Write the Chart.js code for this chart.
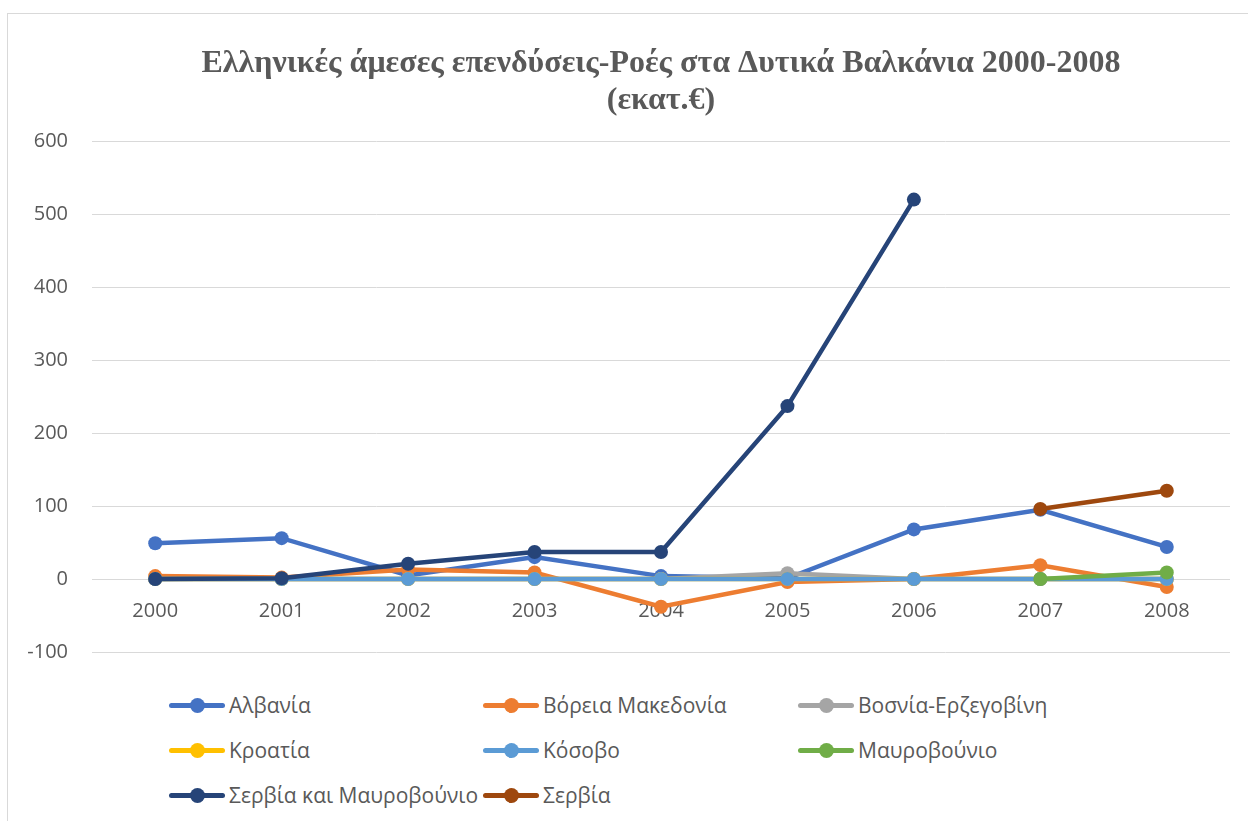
<!DOCTYPE html>
<html>
<head>
<meta charset="utf-8">
<script src="https://cdn.jsdelivr.net/npm/chart.js@4"></script>
<style>
  body { margin: 0; background: #fff; width: 1248px; height: 821px; overflow: hidden; position: relative; }
  #frame { position: absolute; left: 7px; top: 13px; width: 1300px; height: 900px; border: 1px solid #d9d9d9; }
  #wrap { position: absolute; left: 8px; top: 14px; width: 1240px; height: 674px; }
  #legend { position: absolute; left: 0; top: 0; font-family: "Open Sans", sans-serif; font-size: 21px; color: #595959; }
  .item { position: absolute; display: flex; align-items: center; white-space: nowrap; }
  .mark { position: relative; width: 56px; height: 15px; margin-right: 4px; }
  .mark .ln { position: absolute; left: 0; top: 5px; width: 56px; height: 5px; border-radius: 3px; }
  .mark .dot { position: absolute; left: 20.5px; top: 0; width: 15px; height: 15px; border-radius: 50%; }
</style>
</head>
<body>
<div id="frame"></div>
<div id="wrap"><canvas id="chart"></canvas></div>
<div id="legend"></div>
<script>
const years = ["2000", "2001", "2002", "2003", "2004", "2005", "2006", "2007", "2008"];

// values in million euro
const albania = [49, 56, 5, 30, 4, 1, 68, 95, 44];
const northMacedonia = [4, 2, 13, 9, -38, -4, 0, 19, -11];
const bosnia = [0, 0, 0, 0, 0, 8, 0, 0, 0];
const croatia = [0, 0, 0, 0, 0, 0, 0, 0, 0];
const kosovo = [0, 0, 0, 0, 0, 0, 0, 0, 0];
const montenegro = [null, null, null, null, null, null, null, 0, 9];
const serbiaMontenegro = [0, 1, 21, 37, 37, 237, 520, null, null];
const serbia = [null, null, null, null, null, null, null, 96, 121];

const seriesNames = ["Αλβανία", "Βόρεια Μακεδονία", "Βοσνία-Ερζεγοβίνη", "Κροατία",
  "Κόσοβο", "Μαυροβούνιο", "Σερβία και Μαυροβούνιο", "Σερβία"];
const seriesData = [albania, northMacedonia, bosnia, croatia, kosovo, montenegro, serbiaMontenegro, serbia];
const seriesColors = ["#4472C4", "#ED7D31", "#A5A5A5", "#FFC000", "#5B9BD5", "#70AD47", "#264478", "#9E480E"];

const textColor = "#595959";
const gridColor = "#d9d9d9";

const datasets = seriesNames.map((name, i) => ({
  label: name,
  data: seriesData[i],
  borderColor: seriesColors[i],
  backgroundColor: seriesColors[i],
  pointBackgroundColor: seriesColors[i],
  pointBorderColor: seriesColors[i],
  borderWidth: 4.5,
  pointRadius: 7,
  pointBorderWidth: 0,
  tension: 0,
  // excel paints the first series at the bottom
  order: seriesNames.length - i
}));

new Chart(document.getElementById("chart"), {
  type: "line",
  data: { labels: years, datasets },
  options: {
    responsive: true,
    maintainAspectRatio: false,
    animation: false,
    layout: { padding: { left: 0, right: 18, top: 0, bottom: 12 } },
    plugins: {
      legend: { display: false },
      tooltip: { enabled: false },
      title: {
        display: true,
        fullSize: false,
        text: ["Ελληνικές άμεσες επενδύσεις-Ροές στα Δυτικά Βαλκάνια 2000-2008", "(εκατ.€)"],
        color: textColor,
        font: { family: "Liberation Serif", size: 32, weight: "bold", lineHeight: 1.16 },
        padding: { top: 31, bottom: 22 }
      }
    },
    scales: {
      x: {
        position: { y: 0 },
        offset: true,
        grid: { display: false, drawTicks: false },
        border: { display: false },
        ticks: { color: textColor, font: { family: "Open Sans", size: 20 }, padding: 20, maxRotation: 0 }
      },
      y: {
        min: -100,
        max: 600,
        grid: { color: gridColor, lineWidth: 1, drawTicks: false },
        border: { display: false },
        ticks: { stepSize: 100, color: textColor, font: { family: "Open Sans", size: 20 }, padding: 24 },
        afterFit: (scale) => { scale.width = 84; }
      }
    }
  }
});

// legend laid out in three columns like the original
const legendEl = document.getElementById("legend");
const colX = [169, 483, 798];
const rowY = [705, 750, 795];
seriesNames.forEach((name, i) => {
  const item = document.createElement("div");
  item.className = "item";
  item.style.left = colX[i % 3] + "px";
  item.style.top = (rowY[Math.floor(i / 3)] - 14) + "px";
  item.style.height = "28px";
  item.innerHTML = `<span class="mark"><span class="ln" style="background:${seriesColors[i]}"></span>` +
    `<span class="dot" style="background:${seriesColors[i]}"></span></span><span>${name}</span>`;
  legendEl.appendChild(item);
});
</script>
</body>
</html>
